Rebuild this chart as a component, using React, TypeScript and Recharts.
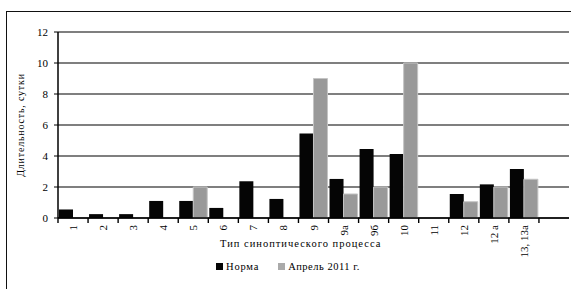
import { Bar, BarChart, CartesianGrid, XAxis, YAxis } from "recharts";

const categories = ["1", "2", "3", "4", "5", "6", "7", "8", "9", "9а", "9б", "10", "11", "12", "12 а", "13, 13а", ""];
const normValues = [0.55, 0.25, 0.25, 1.1, 1.1, 0.65, 2.37, 1.23, 5.45, 2.52, 4.45, 4.13, null, 1.55, 2.17, 3.16, null];
const april2011Values = [null, null, null, null, 2.0, null, null, null, 9.0, 1.55, 2.0, 10.0, null, 1.05, 2.0, 2.5, null];
const yTicks = [0, 2, 4, 6, 8, 10, 12];

const data = categories.map((name, i) => ({
  name,
  norm: normValues[i],
  april: april2011Values[i],
}));

const WIDTH = 571;
const HEIGHT = 289;
const LEFT = 58;
const RIGHT = 2;
const BAND = (WIDTH - LEFT - RIGHT) / categories.length;
const FONT = "'Liberation Serif', 'DejaVu Serif', serif";

// tick label centred in the band, tick mark on the band's left edge
// eslint-disable-next-line @typescript-eslint/no-explicit-any
function CategoryTick(props: any) {
  const x = Number(props.x);
  const y = Number(props.y);
  const bx = x - BAND / 2;
  return (
    <g>
      <path d={`M${bx},${y}L${bx},${y + 5}`} stroke="#000" strokeWidth={1.4} fill="none" />
      <text
        x={x}
        y={y + 7}
        transform={`rotate(-90, ${x}, ${y + 7})`}
        textAnchor="end"
        dominantBaseline="central"
        style={{ fontFamily: FONT }}
        fontSize={11}
        fill="#000"
      >
        {props.payload.value}
      </text>
    </g>
  );
}

// eslint-disable-next-line @typescript-eslint/no-explicit-any
function YTitle({ viewBox }: any) {
  const cy = viewBox.y + viewBox.height / 2;
  return (
    <text
      x={20}
      y={cy}
      transform={`rotate(-90, 20, ${cy})`}
      textAnchor="middle"
      dominantBaseline="central"
      style={{ fontFamily: FONT }}
      fontSize={10}
      letterSpacing={0.8}
      fill="#000"
    >
      Длительность, сутки
    </text>
  );
}

export default function App() {
  return (
    <div style={{ position: "absolute", left: 0, top: 0, width: WIDTH, height: HEIGHT, background: "#fff", overflow: "hidden", fontFamily: FONT }}>
      {/* outer frame */}
      <div
        style={{
          position: "absolute",
          left: 6,
          top: 11,
          width: 620,
          height: 320,
          borderLeft: "1.5px solid #111",
          borderTop: "1.5px solid #111",
        }}
      />
      <BarChart
        width={WIDTH}
        height={HEIGHT}
        data={data}
        margin={{ top: 32, right: RIGHT, bottom: 0, left: 0 }}
        barCategoryGap={1}
        barGap={0}
        style={{ position: "absolute", left: 0, top: 0 }}
      >
        <CartesianGrid vertical={false} stroke="#000" strokeWidth={1.2} />
        <XAxis
          dataKey="name"
          interval={0}
          height={71}
          tickLine={false}
          axisLine={{ stroke: "#000", strokeWidth: 1.5 }}
          tick={<CategoryTick />}
          tickSize={0}
          tickMargin={0}
        />
        <YAxis
          domain={[0, 12]}
          ticks={yTicks}
          width={LEFT}
          tickSize={4}
          tickMargin={6}
          tickLine={{ stroke: "#000" }}
          axisLine={{ stroke: "#000", strokeWidth: 1.5 }}
          tick={{ fontFamily: FONT, fontSize: 11, fill: "#000" }}
          label={<YTitle />}
        />
        <YAxis yAxisId="frame" orientation="right" width={0} tick={false} tickLine={false} axisLine={{ stroke: "#999" }} />
        <Bar dataKey="norm" name="Норма" fill="#050505" isAnimationActive={false} />
        <Bar dataKey="april" name="Апрель 2011 г." fill="#999999" stroke="#c4c4c4" strokeWidth={1} isAnimationActive={false} />
      </BarChart>
      <div
        style={{
          position: "absolute",
          top: 238,
          left: 220,
          fontSize: 10.5,
          letterSpacing: 1,
          color: "#000",
          whiteSpace: "nowrap",
        }}
      >
        Тип синоптического процесса
      </div>
      <div
        style={{
          position: "absolute",
          top: 261,
          left: 216,
          display: "flex",
          alignItems: "center",
          fontSize: 10.5,
          color: "#000",
          whiteSpace: "nowrap",
        }}
      >
        <span style={{ width: 7, height: 7, background: "#050505", marginRight: 3 }} />
        <span style={{ letterSpacing: 0.8 }}>Норма</span>
        <span style={{ width: 7, height: 7, background: "#aaaaaa", marginLeft: 19, marginRight: 3 }} />
        <span style={{ letterSpacing: 0.5 }}>Апрель 2011 г.</span>
      </div>
    </div>
  );
}
